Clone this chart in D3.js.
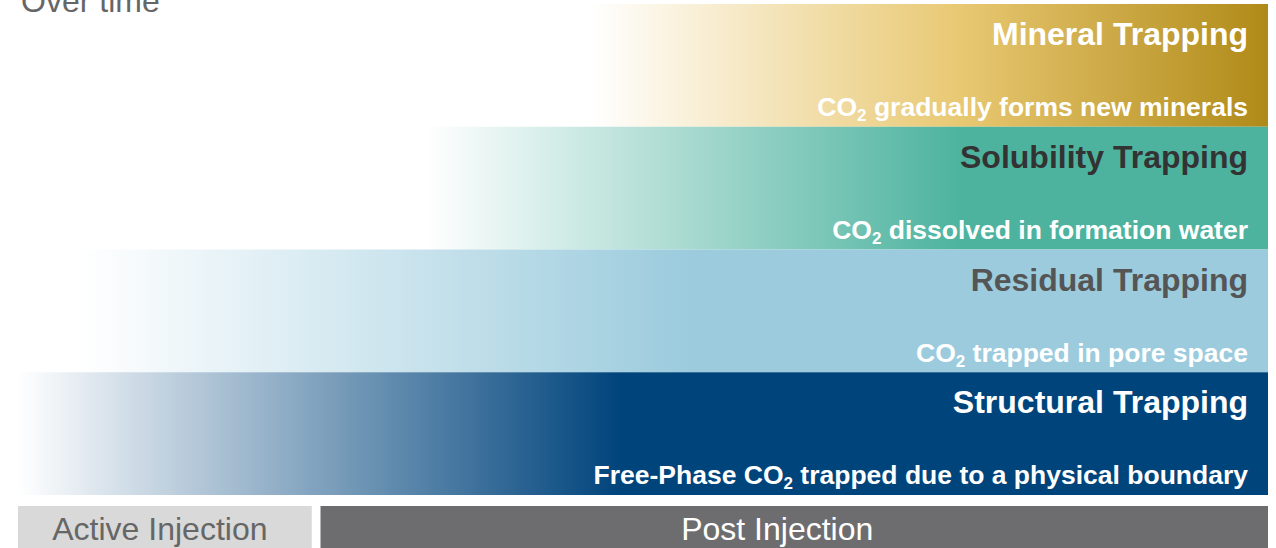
<!DOCTYPE html>
<html>
<head>
<meta charset="utf-8">
<script src="https://cdn.jsdelivr.net/npm/d3@7"></script>
<style>
  html, body { margin: 0; padding: 0; background: #ffffff; overflow: hidden; }
  svg { display: block; font-family: "Liberation Sans", Arial, sans-serif; }
</style>
</head>
<body>
<svg id="chart" width="1276" height="548"></svg>
<script>
// Trapping mechanisms, listed top to bottom
const mechanisms = ["Mineral Trapping", "Solubility Trapping", "Residual Trapping", "Structural Trapping"];
const descriptions = [
  "CO2 gradually forms new minerals",
  "CO2 dissolved in formation water",
  "CO2 trapped in pore space",
  "Free-Phase CO2 trapped due to a physical boundary"
];
// Relative timeline (0–100): where each mechanism begins to appear and where it reaches full strength
const onset = [45.8, 32.6, 5.1, 0];
const fullStrength = [75.4, 75.4, 53.8, 48.2];

// Project phases along the same timeline
const phases = ["Active Injection", "Post Injection"];
const phaseStart = [0, 24.2];
const phaseEnd = [23.5, 100];

const title = "Over time";

// ---- layout ----
const svg = d3.select("#chart");
const x = d3.scaleLinear().domain([0, 100]).range([18, 1268]);
const y = d3.scaleBand().domain(mechanisms).range([4, 495]).padding(0);

const bandColor = {
  "Mineral Trapping":    { full: "#e8c872", end: "#b08a18", title: "#ffffff" },
  "Solubility Trapping": { full: "#4db39f", end: "#4db39f", title: "#333333" },
  "Residual Trapping":   { full: "#9bcbdd", end: "#9bcbdd", title: "#555555" },
  "Structural Trapping": { full: "#00447c", end: "#00447c", title: "#ffffff" }
};

const defs = svg.append("defs");
mechanisms.forEach((m, i) => {
  const g = defs.append("linearGradient")
    .attr("id", "grad" + i)
    .attr("gradientUnits", "userSpaceOnUse")
    .attr("x1", x(onset[i])).attr("x2", x(100))
    .attr("y1", 0).attr("y2", 0);
  const span = 100 - onset[i];
  const fullOffset = (fullStrength[i] - onset[i]) / span;
  g.append("stop").attr("offset", 0).attr("stop-color", "#ffffff");
  g.append("stop").attr("offset", fullOffset).attr("stop-color", bandColor[m].full);
  g.append("stop").attr("offset", 1).attr("stop-color", bandColor[m].end);
});

// Mechanism bands
const bands = svg.append("g").selectAll("g.band")
  .data(mechanisms)
  .join("g")
  .attr("class", "band");

bands.append("rect")
  .attr("x", (d, i) => x(onset[i]))
  .attr("y", d => y(d))
  .attr("width", (d, i) => x(100) - x(onset[i]))
  .attr("height", y.bandwidth())
  .attr("fill", (d, i) => `url(#grad${i})`);

const textRight = x(100) - 20;

bands.append("text")
  .attr("x", textRight)
  .attr("y", d => y(d) + 41)
  .attr("text-anchor", "end")
  .attr("font-size", 32)
  .attr("font-weight", "bold")
  .attr("fill", d => bandColor[d].title)
  .text(d => d);

// Descriptions with subscript in CO2
bands.append("text")
  .attr("x", textRight)
  .attr("y", d => y(d) + 112)
  .attr("text-anchor", "end")
  .attr("font-size", 26.5)
  .attr("font-weight", "bold")
  .attr("fill", "#ffffff")
  .each(function(d, i) {
    const t = d3.select(this);
    const parts = descriptions[i].split("CO2");
    let shifted = false;
    parts.forEach((p, k) => {
      if (p) {
        t.append("tspan").attr("dy", shifted ? -5 : null).text(p);
        shifted = false;
      }
      if (k < parts.length - 1) {
        t.append("tspan").text("CO");
        t.append("tspan").attr("font-size", 17).attr("dy", 5).text("2");
        shifted = true;
      }
    });
  });

// Phase bar along the bottom
const phaseFill = ["#d9d9d9", "#6d6d6f"];
const phaseText = ["#666666", "#ffffff"];
const phaseShift = [-5, -17];
const phaseG = svg.append("g").selectAll("g.phase")
  .data(phases)
  .join("g")
  .attr("class", "phase");

phaseG.append("rect")
  .attr("x", (d, i) => x(phaseStart[i]))
  .attr("y", 506)
  .attr("width", (d, i) => x(phaseEnd[i]) - x(phaseStart[i]))
  .attr("height", 42)
  .attr("fill", (d, i) => phaseFill[i]);

phaseG.append("text")
  .attr("x", (d, i) => (x(phaseStart[i]) + x(phaseEnd[i])) / 2 + phaseShift[i])
  .attr("y", 540)
  .attr("text-anchor", "middle")
  .attr("font-size", 32)
  .attr("fill", (d, i) => phaseText[i])
  .text(d => d);

// Heading
svg.append("text")
  .attr("x", 21)
  .attr("y", 12)
  .attr("font-size", 32)
  .attr("fill", "#666666")
  .text(title);
</script>
</body>
</html>
